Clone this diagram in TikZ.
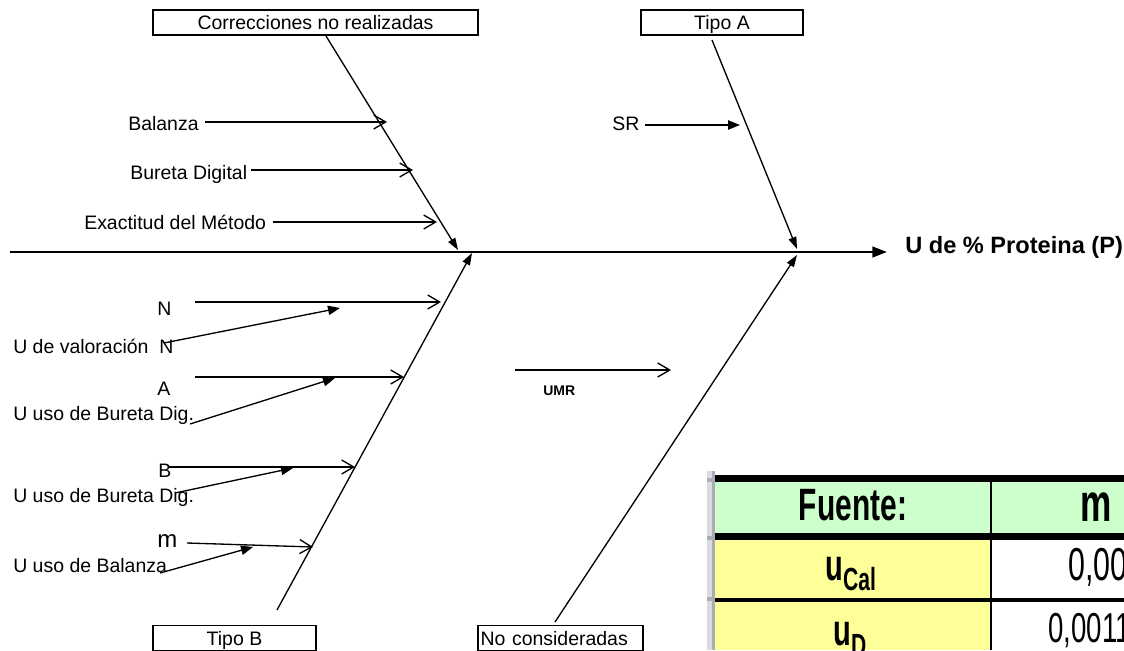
\documentclass[tikz,border=0pt]{standalone}
\usepackage{fontspec}
\setmainfont{Liberation Sans}
\newfontfamily\celdafont[FakeStretch=0.66]{Liberation Sans}
\usetikzlibrary{arrows.meta}
\definecolor{verdecelda}{RGB}{204,255,204}
\definecolor{amarillocelda}{RGB}{255,255,153}
\definecolor{grisclaro}{RGB}{218,218,226}
\definecolor{grisoscuro}{RGB}{172,172,180}
\tikzset{
  caja/.style={draw, line width=0.8pt, inner sep=0pt, minimum height=18.75pt, text height=13.6pt, text depth=3pt, font=\fontsize{14.6}{17}\selectfont},
  etiq/.style={inner sep=0pt, anchor=base west, font=\fontsize{14.6}{17}\selectfont},
  espina/.style={line width=1pt, -{Triangle[length=9pt,width=6pt]}},
  flecha/.style={line width=1pt, -{Triangle[length=9pt,width=7pt]}},
  abierta/.style={line width=1pt, -{Straight Barb[length=9pt,width=10.5pt]}}
}
\begin{document}
\begin{tikzpicture}[x=0.75pt, y=-0.75pt]
  \useasboundingbox (0,0) rectangle (1124,650);
  \clip (0,0) rectangle (1124,650);

  \fill[grisclaro] (707,471) rectangle (712,650);
  \fill[grisoscuro] (712,471) rectangle (715,650);
  \foreach \y in {478,536,597} \fill[grisoscuro] (707,\y) rectangle (715,\y+4);
  \fill[verdecelda] (715,482) rectangle (1124,533);
  \fill[amarillocelda] (715,540) rectangle (991,598);
  \fill[amarillocelda] (715,602) rectangle (991,650);
  \foreach \a/\b in {475/482,533/540,598/602} \fill (715,\a) rectangle (1124,\b);
  \draw[line width=1.5pt] (991,482) -- (991,650);
  \node[inner sep=0pt] (fuente) at (853,505) {\celdafont\bfseries\fontsize{34}{34}\selectfont Fuente:};
  \node[inner sep=0pt] (colm) at (1096,507.5) {\celdafont\bfseries\fontsize{40}{40}\selectfont m};
  \node[inner sep=0pt, anchor=base west] (ucal) at (825,580) {\celdafont\bfseries\fontsize{33}{33}\selectfont u\raisebox{-7.5pt}{\fontsize{24}{24}\selectfont Cal}};
  \node[inner sep=0pt, anchor=base west] (ud) at (833,645) {\celdafont\bfseries\fontsize{33}{33}\selectfont u\raisebox{-8.25pt}{\fontsize{24}{24}\selectfont D}};
  \node[inner sep=0pt, anchor=base west] (valcal) at (1068,580) {\celdafont\fontsize{34.6}{35}\selectfont 0,00};
  \node[inner sep=0pt, anchor=base west] (vald) at (1048,642) {\celdafont\fontsize{31.4}{32}\selectfont 0,0011};

  \node[caja, minimum width=243.75pt] (corr) at (315.5,22.5) {Correcciones no realizadas};
  \node[caja, minimum width=121.5pt] (tipoA) at (722,22.5) {Tipo A};
  \node[caja, minimum width=122.25pt] (tipoB) at (234.5,638) {Tipo B};
  \node[caja, text width=119.75pt, inner xsep=2pt, align=left] (nocons) at (560.5,638) {No consideradas};

  \coordinate (cola) at (10,252);
  \coordinate (punta) at (887,252);
  \draw[line width=1.8pt, -{Triangle[length=11pt,width=8pt]}] (cola) -- (punta);
  \node[inner sep=0pt, anchor=base west, font=\fontsize{17.7}{20}\selectfont\bfseries] (titulo) at (905,253) {U de \% Proteina (P)};

  \foreach \n/\xa/\ya/\xb/\yb in {c/326/36/458/250, a/712/40/797/249, b/277/610/472/253, n/555/622/797/255}
  {
    \coordinate (\n0) at (\xa,\ya);
    \coordinate (\n1) at (\xb,\yb);
    \draw[espina] (\n0) -- (\n1);
  }

  \foreach \nm/\x/\y/\txt in {bal/128/130/Balanza, bur/130/179/Bureta Digital, exa/84/229/Exactitud del Método,
    sr/612/130/SR, ln/157/315/N, la/157/395/A, lb/158/477/B,
    vn/13/353/U de valoración\ \ N, ub1/13/420/U uso de Bureta Dig., ub2/13/502/U uso de Bureta Dig., ubal/13/572/U uso de Balanza}
    \node[etiq] (\nm) at (\x,\y) {\txt};
  \node[etiq, font=\fontsize{18}{20}\selectfont] (lm) at (157,547) {m};
  \node[etiq, font=\fontsize{10.5}{12}\selectfont\bfseries] (umr) at (543,395) {UMR};

  \foreach \n/\xa/\ya/\xb/\yb in {1/205/122/387/122, 2/251/170/413/170, 3/273/222/437/222,
    4/195/302/441/302, 5/195/377/404/377, 6/168/467/355/467, 7/187/543/313/547, 8/515/370/671/370}
  {
    \coordinate (h\n a) at (\xa,\ya);
    \coordinate (h\n b) at (\xb,\yb);
    \draw[abierta] (h\n a) -- (h\n b);
  }

  \foreach \n/\xa/\ya/\xb/\yb in {1/645/125/740/125, 2/164/343/340/308, 3/190/424/335/378, 4/175/493/293/468, 5/160/573/253/547}
  {
    \coordinate (d\n a) at (\xa,\ya);
    \coordinate (d\n b) at (\xb,\yb);
    \draw[flecha] (d\n a) -- (d\n b);
  }
\end{tikzpicture}
\end{document}
